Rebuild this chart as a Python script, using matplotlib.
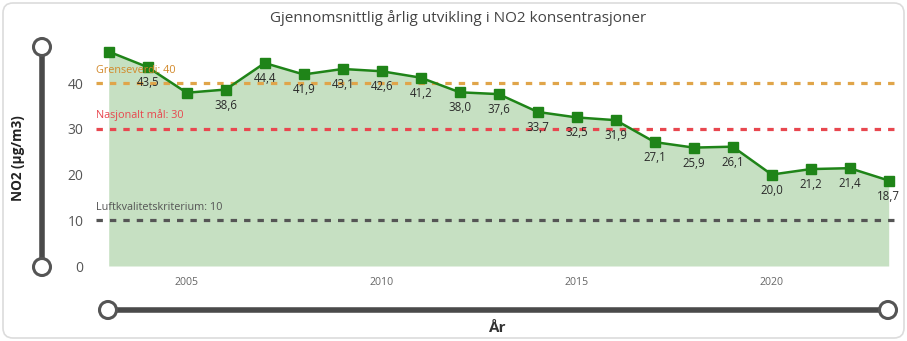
import numpy as np
import matplotlib
matplotlib.use("Agg")
import matplotlib.pyplot as plt
from matplotlib.patches import Circle, FancyBboxPatch

plt.rcParams['font.family'] = ['Open Sans', 'DejaVu Sans']

# data
years = list(range(2003, 2024))
no2 = [46.9, 43.5, 37.9, 38.6, 44.4, 41.9, 43.1, 42.6, 41.2, 38.0, 37.6,
       33.7, 32.5, 31.9, 27.1, 25.9, 26.1, 20.0, 21.2, 21.4, 18.7]
show_label = [False, True, False] + [True] * 18
ref_values = [40, 30, 10]
ref_names = ['Grenseverdi', 'Nasjonalt mål', 'Luftkvalitetskriterium']
ref_line_colors = ['#e0a54a', '#e8474f', '#555555']
ref_text_colors = ['#d2892a', '#e8474f', '#555555']
y_ticks = [0, 10, 20, 30, 40]
x_ticks = [2005, 2010, 2015, 2020]

W, H = 907, 341
fig = plt.figure(figsize=(W / 100, H / 100), dpi=100)

# background / decoration layer in pixel coordinates
bg = fig.add_axes([0, 0, 1, 1], zorder=0)
bg.set_xlim(0, W)
bg.set_ylim(H, 0)
bg.axis('off')
bg.add_patch(FancyBboxPatch((3, 3), W - 6, H - 6, boxstyle="round,pad=0,rounding_size=10",
                            fc='white', ec='#dcdcdc', lw=1.2))

# sliders
bg.plot([42, 42], [47, 267], color='#4a4a4a', lw=4, solid_capstyle='butt', zorder=2)
bg.plot([108, 888], [310, 310], color='#4a4a4a', lw=4, solid_capstyle='butt', zorder=2)
for cx, cy in [(42, 47), (42, 267), (108, 310), (888, 310)]:
    bg.add_patch(Circle((cx, cy), 8.5, fc='white', ec='#555555', lw=2.2, zorder=3))

# main chart
left, right = 96, 897
bottom, top = 266, 42
ax = fig.add_axes([left / W, 1 - bottom / H, (right - left) / W, (bottom - top) / H], zorder=1)
ax.patch.set_alpha(0)
px_per_year = 39.0
ax.set_xlim(2003 - (108.7 - left) / px_per_year, 2023 + (right - 888.7) / px_per_year)
ax.set_ylim(0, 49)

ax.fill_between(years, no2, 0, color='#c6e0c2', lw=0, zorder=1)
ax.plot(years, no2, color='#1f8418', lw=1.8, marker='s', markersize=6.5, zorder=4)

for v, name, lc, tc in zip(ref_values, ref_names, ref_line_colors, ref_text_colors):
    ax.axhline(v, color=lc, lw=2.3, linestyle=(0, (2, 2.2)), zorder=3)
    ax.annotate(f'{name}: {v}', xy=(0, v), xycoords=('axes fraction', 'data'),
                xytext=(0, 5.5), textcoords='offset points', ha='left', va='bottom',
                fontsize=7.8, color=tc, zorder=5)

for x, v, s in zip(years, no2, show_label):
    if s:
        ax.annotate(f'{v:.1f}'.replace('.', ','), xy=(x, v), xytext=(0, -6.5),
                    textcoords='offset points', ha='center', va='top',
                    fontsize=8.3, color='#2a2a2a', zorder=5)

ax.set_yticks(y_ticks)
ax.set_xticks(x_ticks)
ax.tick_params(axis='y', length=0, pad=9, labelsize=10, labelcolor='#555555')
ax.tick_params(axis='x', length=0, pad=8, labelsize=7.6, labelcolor='#666666')
for sp in ax.spines.values():
    sp.set_visible(False)

fig.text(458 / W, 1 - 18 / H, 'Gjennomsnittlig årlig utvikling i NO2 konsentrasjoner',
         ha='center', va='center', fontsize=11, color='#444444')
fig.text(18 / W, 1 - 158 / H, 'NO2 (µg/m3)', rotation=90, ha='center', va='center',
         fontsize=9.8, fontweight='bold', color='#222222')
fig.text(497 / W, 1 - 328 / H, 'År', ha='center', va='center',
         fontsize=11, fontweight='bold', color='#333333')

fig.savefig('out.png', dpi=100)
